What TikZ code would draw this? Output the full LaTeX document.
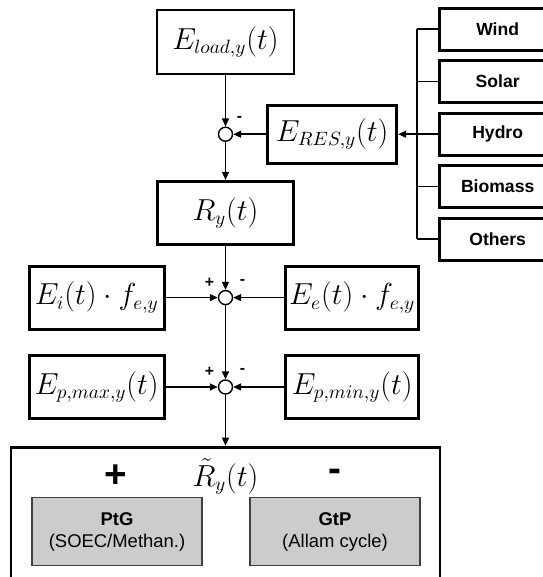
\documentclass[tikz,border=0pt]{standalone}
\usepackage{amsmath}
\usepackage{fontspec}
\setsansfont{Liberation Sans}
\usetikzlibrary{positioning,arrows.meta,calc}

\begin{document}
\begin{tikzpicture}[
        font=\sffamily,
        >={Triangle[length=1.6mm, width=1.4mm]},
        box/.style={rectangle, draw, line width=1.7pt, align=center, font=\fontsize{16}{19}\selectfont,
                    minimum width=27mm, minimum height=12.6mm, inner sep=1pt},
        src/.style={rectangle, draw, line width=1.7pt, font=\sffamily\bfseries,
                    minimum width=23.2mm, minimum height=8.4mm},
        conv/.style={rectangle, draw=black!75, line width=0.6pt, fill=black!20, align=center,
                     minimum width=34mm, minimum height=13.6mm,
                     font=\sffamily\fontsize{10.5}{12.5}\selectfont},
        sum/.style={circle, draw, line width=0.8pt, fill=white, minimum size=2.8mm, inner sep=0pt},
        sgn/.style={font=\sffamily\bfseries\small, inner sep=0pt},
        bigsgn/.style={font=\sffamily\bfseries\fontsize{22}{26}\selectfont, inner sep=0pt},
        wire/.style={line width=0.85pt},
        arr/.style={wire, ->},
    ]
        % main chain
        \node[box, minimum width=27.4mm, minimum height=12.8mm] (eload) {$E_{load,y}(t)$};
        \node[sum, below=10.2mm of eload] (j1) {};
        \node[box, right=6.6mm of j1, minimum width=25.8mm, minimum height=11.6mm] (eres) {$E_{RES,y}(t)$};
        \node[box, below=7.6mm of j1, minimum width=27.2mm] (ry) {$R_y(t)$};
        \node[sum, below=8.8mm of ry] (j2) {};
        \node[box, left=10.4mm of j2] (ei) {$E_i(t)\cdot f_{e,y}$};
        \node[box, right=10.2mm of j2, minimum width=26.6mm] (ee) {$E_e(t)\cdot f_{e,y}$};
        \node[sum, below=14.8mm of j2] (j3) {};
        \node[box, left=10.4mm of j3] (epmax) {$E_{p,max,y}(t)$};
        \node[box, right=10.2mm of j3, minimum width=26.6mm] (epmin) {$E_{p,min,y}(t)$};

        \useasboundingbox ($(eload.center)+(-45.1mm,8.4mm)$) rectangle ($(eload.center)+(63.3mm,-107mm)$);

        % signs at the junctions
        \node[sgn] (j1m) at ($(j1)+(2.8mm,3mm)$) {-};
        \node[sgn] (j2p) at ($(j2)+(-3.2mm,3mm)$) {+};
        \node[sgn] (j2m) at ($(j2)+(3.4mm,3.2mm)$) {-};
        \node[sgn] (j3p) at ($(j3)+(-3.2mm,3mm)$) {+};
        \node[sgn] (j3m) at ($(j3)+(3.4mm,3.2mm)$) {-};

        % renewable sources
        \node[src, right=8mm of eres] (hydro) {Hydro};
        \node[src, above=1.5mm of hydro] (solar) {Solar};
        \node[src, above=1.5mm of solar] (wind) {Wind};
        \node[src, below=1.5mm of hydro] (biomass) {Biomass};
        \node[src, below=1.5mm of biomass] (others) {Others};
        \coordinate (bustop) at ($(wind.west)+(-4.2mm,0)$);
        \coordinate (busbot) at ($(others.west)+(-4.2mm,0)$);

        % residual load box
        \node[rectangle, draw, line width=1.7pt, minimum width=85.8mm, minimum height=34mm,
              below=10.2mm of j3] (res) {};
        \node (rt) at ($(res.north)+(0,-6.2mm)$) {\fontsize{16}{19}\selectfont$\tilde{R}_y(t)$};
        \node[bigsgn] (plus) at ($(res.north)+(-21.9mm,-6mm)$) {+};
        \node[bigsgn] (minus) at ($(res.north)+(21.9mm,-6mm)$) {-};
        \node[conv] (ptg) at ($(res.north)+(-21.7mm,-17.2mm)$) {\textbf{PtG}\\(SOEC/Methan.)};
        \node[conv] (gtp) at ($(res.north)+(21.9mm,-17.2mm)$) {\textbf{GtP}\\(Allam cycle)};

        \draw[wire] (bustop) -- (busbot);
        \draw[wire] (wind.west) -- (bustop);
        \draw[wire] (solar.west) -- (solar.west -| bustop);
        \draw[wire] (biomass.west) -- (biomass.west -| bustop);
        \draw[wire] (others.west) -- (busbot);
        \draw[arr] (hydro) -- (eres);

        \draw[arr] (eload) -- (j1);
        \draw[arr] (eres) -- (j1);
        \draw[arr] (j1) -- (ry);
        \draw[arr] (ry) -- (j2);
        \draw[arr] (ei) -- (j2);
        \draw[arr] (ee) -- (j2);
        \draw[arr] (j2) -- (j3);
        \draw[arr] (epmax) -- (j3);
        \draw[arr] (epmin) -- (j3);
        \draw[arr] (j3) -- (res);
    \end{tikzpicture}
\end{document}
